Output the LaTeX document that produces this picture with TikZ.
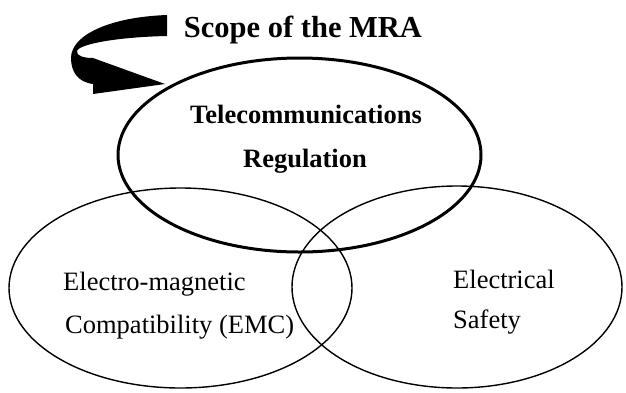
\documentclass[tikz,border=0pt]{standalone}
\usepackage{fontspec}
\setmainfont{Liberation Serif}
\usetikzlibrary{shapes.geometric}
\begin{document}
\begin{tikzpicture}[x=1pt,y=-1pt,
  ring/.style={ellipse,draw=black,inner sep=0pt,outer sep=0pt},
  thickring/.style={ring,line width=3pt},
  thinring/.style={ring,line width=1.4pt},
  lbl/.style={inner sep=0pt,anchor=base west,font=\fontsize{26.5}{30}\selectfont},
  blbl/.style={inner sep=0pt,anchor=base,font=\fontsize{26.5}{30}\selectfont\bfseries}]
\useasboundingbox (0,0) rectangle (626,392);
% lower circles
\node[thinring,minimum width=343pt,minimum height=200pt] (emc) at (180.5,288) {};
\node[thinring,minimum width=330pt,minimum height=202pt] (safe) at (457,287) {};
% top circle
\node[thickring,minimum width=363pt,minimum height=194pt] (tel) at (299.5,155) {};
% texts
\node[blbl] (t1) at (306,123) {Telecommunications};
\node[blbl] (t2) at (305,167) {Regulation};
\node[lbl] (e1) at (63,290) {Electro-magnetic};
\node[lbl] (e2) at (65,333) {Compatibility (EMC)};
\node[lbl] (s1) at (453,288) {Electrical};
\node[lbl] (s2) at (453,328) {Safety};
\node[inner sep=0pt,anchor=base,font=\fontsize{30.5}{34}\selectfont\bfseries] (scope) at (303,37) {Scope of the MRA};
% curled arrow
\fill[black] (167,15) -- (167,36)
  .. controls (118,37) and (79,44) .. (77,51)
  .. controls (76,56) and (84,58) .. (93,58)
  -- (165,84) -- (93,94) -- (93,84)
  .. controls (78,82) and (71,72) .. (71,58)
  .. controls (71,35) and (110,17) .. (167,15) -- cycle;
\end{tikzpicture}
\end{document}
